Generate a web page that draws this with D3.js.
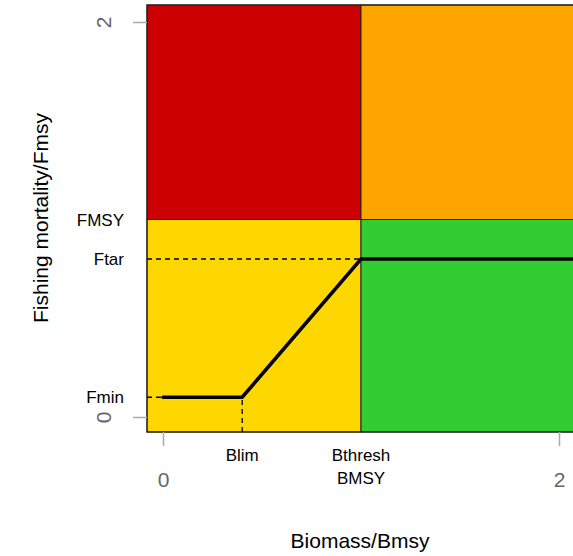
<!DOCTYPE html>
<html><head><meta charset="utf-8">
<script src="https://cdn.jsdelivr.net/npm/d3@7"></script>
<style>body{margin:0;background:#fff;} svg{display:block;font-family:Arial,"Liberation Sans",sans-serif;}</style>
</head><body>
<div id="chart"></div>
<script>
// reference points (relative to Bmsy / Fmsy)
var refNames = ["Blim", "Bthresh", "Fmin", "Ftar", "FMSY"];
var refValues = [0.4, 1.0, 0.1, 0.8, 1.0];
var xTicks = [0, 2];
var yTicks = [0, 2];
var hcrB = [0, 0.4, 1.0, 2.2];
var hcrF = [0.1, 0.1, 0.8, 0.8];
var zoneColors = ["#CC0000", "#FFA500", "#FFD700", "#32CD32"];

var ref = {};
refNames.forEach(function (n, i) { ref[n] = refValues[i]; });

var W = 573, H = 556;
var svg = d3.select("#chart").append("svg").attr("width", W).attr("height", H);

var x = d3.scaleLinear().domain([0, 2]).range([163, 559]);
var y = d3.scaleLinear().domain([0, 2]).range([417, 22]);
var x0 = x.invert(147), x1 = x.invert(600);
var y0 = y.invert(432), y1 = y.invert(5);

// zones
var zones = [
  [x0, ref.Bthresh, ref.FMSY, y1],
  [ref.Bthresh, x1, ref.FMSY, y1],
  [x0, ref.Bthresh, y0, ref.FMSY],
  [ref.Bthresh, x1, y0, ref.FMSY]
];
svg.selectAll("rect.zone").data(zones).enter().append("rect")
  .attr("x", function (d) { return x(d[0]); })
  .attr("width", function (d) { return x(d[1]) - x(d[0]); })
  .attr("y", function (d) { return y(d[3]); })
  .attr("height", function (d) { return y(d[2]) - y(d[3]); })
  .attr("fill", function (d, i) { return zoneColors[i]; })
  .attr("stroke", "#222").attr("stroke-width", 1);

// dashed reference lines
svg.append("line").attr("x1", x(x0)).attr("x2", x(ref.Bthresh))
  .attr("y1", y(ref.Ftar)).attr("y2", y(ref.Ftar))
  .attr("stroke", "#000").attr("stroke-width", 1.3).attr("stroke-dasharray", "5,4");
svg.append("line").attr("x1", x(x0)).attr("x2", x(0))
  .attr("y1", y(ref.Fmin)).attr("y2", y(ref.Fmin))
  .attr("stroke", "#000").attr("stroke-width", 1.3).attr("stroke-dasharray", "5,4");
svg.append("line").attr("x1", x(ref.Blim)).attr("x2", x(ref.Blim))
  .attr("y1", y(y0)).attr("y2", y(ref.Fmin))
  .attr("stroke", "#000").attr("stroke-width", 1.3).attr("stroke-dasharray", "5,4");

// harvest control rule
svg.append("path").datum(d3.range(hcrB.length))
  .attr("fill", "none").attr("stroke", "#000").attr("stroke-width", 3.5)
  .attr("stroke-linecap", "round")
  .attr("d", d3.line().x(function (i) { return x(hcrB[i]); }).y(function (i) { return y(hcrF[i]); }));

// frame
svg.append("rect").attr("x", 147).attr("y", 5).attr("width", 460).attr("height", 427)
  .attr("fill", "none").attr("stroke", "#222").attr("stroke-width", 1.2);

// axes
var xAxis = svg.append("g").attr("transform", "translate(0,432)")
  .call(d3.axisBottom(x).tickValues(xTicks).tickSize(14).tickPadding(26).tickFormat(d3.format("d")));
var yAxis = svg.append("g").attr("transform", "translate(147,0)")
  .call(d3.axisLeft(y).tickValues(yTicks).tickSize(14).tickPadding(6).tickFormat(d3.format("d")));
[xAxis, yAxis].forEach(function (a) {
  a.select(".domain").remove();
  a.selectAll(".tick line").attr("stroke", "#aaa").attr("stroke-width", 1.5);
  a.selectAll(".tick text").attr("fill", "#666").style("font-size", "21px");
});
xAxis.selectAll(".tick line").attr("y1", 0);
yAxis.selectAll(".tick text").attr("text-anchor", "middle").attr("dy", 0)
  .attr("transform", "rotate(-90,-43,0)")
  .attr("x", -43).attr("y", 7);

// reference labels
var yLabels = ["FMSY", "Ftar", "Fmin"];
svg.selectAll("text.ylab").data(yLabels).enter().append("text")
  .attr("x", 124).attr("y", function (d) { return y(ref[d]) + 6; })
  .attr("text-anchor", "end").style("font-size", "17px").text(function (d) { return d; });
svg.append("text").attr("x", x(ref.Blim)).attr("y", 461).attr("text-anchor", "middle")
  .style("font-size", "17px").text("Blim");
svg.append("text").attr("x", x(ref.Bthresh)).attr("y", 461).attr("text-anchor", "middle")
  .style("font-size", "17px").text("Bthresh");
svg.append("text").attr("x", x(1)).attr("y", 484).attr("text-anchor", "middle")
  .style("font-size", "17px").text("BMSY");

// axis titles
svg.append("text").attr("x", 360).attr("y", 548).attr("text-anchor", "middle")
  .style("font-size", "21px").text("Biomass/Bmsy");
svg.append("text").attr("transform", "translate(48,218) rotate(-90)").attr("text-anchor", "middle")
  .style("font-size", "21px").text("Fishing mortality/Fmsy");
</script>
</body></html>
